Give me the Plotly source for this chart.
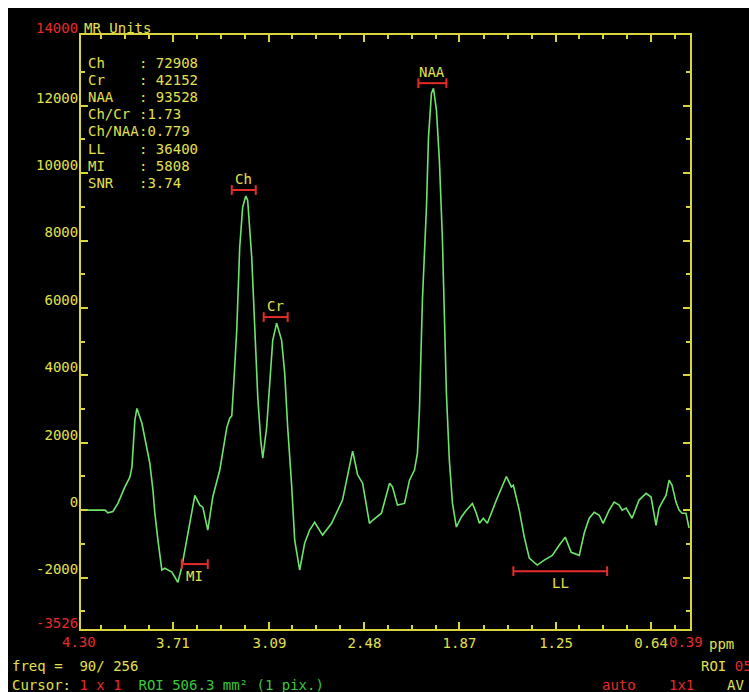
import plotly.graph_objects as go

# ---------------- data ----------------
ppm = [4.300, 4.146, 4.127, 4.095, 4.063, 4.018, 3.986, 3.973, 3.954, 3.941,
       3.909, 3.877, 3.858, 3.838, 3.826, 3.806, 3.781, 3.762, 3.717, 3.697,
       3.678, 3.653, 3.621, 3.588, 3.569, 3.537, 3.518, 3.486, 3.454, 3.409,
       3.390, 3.364, 3.345, 3.332, 3.320, 3.300, 3.281, 3.262, 3.242, 3.230,
       3.204, 3.185, 3.165, 3.146, 3.133, 3.108, 3.089, 3.069, 3.044, 3.012,
       2.992, 2.973, 2.947, 2.928, 2.896, 2.864, 2.832, 2.800, 2.749, 2.691,
       2.621, 2.589, 2.556, 2.524, 2.492, 2.448, 2.428, 2.371, 2.319, 2.300,
       2.268, 2.223, 2.191, 2.159, 2.140, 2.127, 2.108, 2.082, 2.069, 2.050,
       2.037, 2.018, 1.999, 1.980, 1.967, 1.954, 1.935, 1.915, 1.890, 1.858,
       1.826, 1.787, 1.762, 1.742, 1.717, 1.691, 1.633, 1.569, 1.537, 1.524,
       1.486, 1.454, 1.422, 1.371, 1.326, 1.274, 1.230, 1.191, 1.153, 1.101,
       1.069, 1.037, 1.005, 0.973, 0.948, 0.909, 0.877, 0.845, 0.826, 0.800,
       0.762, 0.717, 0.672, 0.640, 0.608, 0.589, 0.569, 0.544, 0.524, 0.505,
       0.480, 0.460, 0.441, 0.416, 0.396]
signal = [0, 0, -80, -40, 200, 690, 980, 1280, 2670, 3020,
          2580, 1870, 1390, 590, -90, -890, -1780, -1720, -1840, -1990,
          -2140, -1690, -890, -90, 440, 150, 90, -590, 390, 1190,
          1780, 2450, 2730, 2800, 3700, 5340, 7800, 8990, 9320, 9200,
          7510, 5340, 3350, 2080, 1540, 2460, 3860, 5040, 5550, 5040,
          4060, 2460, 690, -890, -1780, -980, -590, -360, -740, -390,
          300, 1000, 1750, 1050, 800, -390, -300, -90, 800, 690,
          150, 200, 890, 1190, 1690, 2970, 6230, 8990, 11070, 12370,
          12520, 11870, 10380, 8100, 5430, 3470, 1480, 200, -500, -200,
          0, 200, -90, -390, -240, -390, 300, 1000, 690, 740,
          0, -800, -1420, -1630, -1480, -1340, -1040, -800, -1250, -1340,
          -680, -240, -60, -150, -390, 0, 240, 150, 0, 60,
          -240, 300, 500, 390, -450, 60, 240, 440, 890, 740,
          240, 0, -90, -90, -530]

peak_names = ["Ch", "Cr", "NAA", "MI", "LL"]
peak_start = [3.332, 3.127, 2.134, 3.653, 1.524]
peak_end = [3.178, 2.973, 1.954, 3.486, 0.922]
peak_level = [9500, 5730, 12670, -1600, -1810]
peak_label_above = [True, True, True, False, False]

stat_names = ["Ch", "Cr", "NAA", "Ch/Cr", "Ch/NAA", "LL", "MI", "SNR"]
stat_values = [": 72908", ": 42152", ": 93528", ":1.73", ":0.779",
               ": 36400", ": 5808", ":3.74"]

x_tick_vals = [3.71, 3.09, 2.48, 1.87, 1.25, 0.64]
x_tick_text = ["3.71", "3.09", "2.48", "1.87", "1.25", "0.64"]
x_start, x_end = 4.30, 0.39
y_tick_vals = [-2000, 0, 2000, 4000, 6000, 8000, 10000, 12000]
y_tick_text = ["-2000", "0", "2000", "4000", "6000", "8000", "10000", "12000"]
y_minor_vals = [-3000, -1000, 1000, 3000, 5000, 7000, 9000, 11000, 13000]
y_bottom, y_top = -3526, 14100

# ---------------- styling ----------------
W, H = 749, 692
PL, PR, PT, PB = 81, 690, 35, 629     # plot frame in page pixels
ML, MT = PL, PT
PW, PH = PR - PL, PB - PT
MR, MB = W - ML - PW, H - MT - PH
EDGE = 8                               # white border at left / top

YEL = "#e2e04c"
AXC = "#d8d63c"
RED = "#e52b2b"
GRN_LINE = "#6ee46e"
GRN_TXT = "#38c838"
FONT = "DejaVu Sans Mono"
FS = 14


def px(x, y):
    """page pixel -> paper coordinates"""
    return (x - PL) / PW, (PB - y) / PH


# minor x ticks: quarter steps of the major spacing
step = (x_tick_vals[0] - x_tick_vals[-1]) / (len(x_tick_vals) - 1) / 4
x_minor = []
v = x_tick_vals[0] + step
while v < x_start - 0.02:
    x_minor.append(round(v, 4))
    v += step
v = x_tick_vals[0] - step
while v > x_end + 0.02:
    if min(abs(v - m) for m in x_tick_vals) > 0.03:
        x_minor.append(round(v, 4))
    v -= step

fig = go.Figure()
fig.add_trace(go.Scatter(x=ppm, y=signal, mode="lines",
                         line=dict(color=GRN_LINE, width=1.6),
                         hoverinfo="skip", showlegend=False))

annotations = []
for name, a, b, lev, above in zip(peak_names, peak_start, peak_end,
                                  peak_level, peak_label_above):
    fig.add_trace(go.Scatter(
        x=[a, b], y=[lev, lev], mode="lines+markers",
        line=dict(color=RED, width=2),
        marker=dict(symbol="line-ns", size=7, line=dict(color=RED, width=2)),
        hoverinfo="skip", showlegend=False))
    annotations.append(dict(
        x=(a + b) / 2, y=lev, xref="x", yref="y", text=name,
        showarrow=False, font=dict(family=FONT, size=FS, color=YEL),
        yanchor="bottom" if above else "top",
        yshift=1 if above else -2))

# stats block
for i, (n, val) in enumerate(zip(stat_names, stat_values)):
    yc = 63 + i * 17.1
    x0, y0 = px(86, yc)
    x1, _ = px(137, yc)
    annotations.append(dict(x=x0, y=y0, xref="paper", yref="paper", text=n,
                            showarrow=False, xanchor="left", yanchor="middle",
                            font=dict(family=FONT, size=FS, color=YEL)))
    annotations.append(dict(x=x1, y=y0, xref="paper", yref="paper", text=val,
                            showarrow=False, xanchor="left", yanchor="middle",
                            font=dict(family=FONT, size=FS, color=YEL)))


def txt(x, y, text, color, anchor="left"):
    xp, yp = px(x, y)
    annotations.append(dict(x=xp, y=yp, xref="paper", yref="paper", text=text,
                            showarrow=False, xanchor=anchor, yanchor="middle",
                            font=dict(family=FONT, size=FS, color=color)))


txt(80, 28, "14000", RED, "right")
txt(82, 28, "MR Units", YEL, "left")
txt(80, 623, "-3526", RED, "right")
txt(79, 642, "4.30", RED, "center")
txt(686, 642, "0.39", RED, "center")
txt(707, 644, "ppm", YEL, "left")
txt(10, 666, "freq =\u00a0 90/ 256", YEL, "left")
txt(10, 685, "Cursor: <span style='color:%s'>1 x 1</span>\u00a0 "
             "<span style='color:%s'>ROI 506.3 mm² (1 pix.)</span>" % (RED, GRN_TXT),
    YEL, "left")
txt(699, 666, "ROI <span style='color:%s'>05</span>" % RED, YEL, "left")
txt(600, 685, "auto", RED, "left")
txt(667, 685, "1x1", RED, "left")
txt(725, 685, "AV", YEL, "left")

# white border at the left and top edge of the picture
x_l, y_t = px(0, 0)
x_r, y_b = px(W, H)
x_e, y_e = px(EDGE, EDGE)
shapes = [
    dict(type="rect", xref="paper", yref="paper", x0=x_l, x1=x_e,
         y0=y_b, y1=y_t, fillcolor="white", line=dict(width=0), layer="above"),
    dict(type="rect", xref="paper", yref="paper", x0=x_l, x1=x_r,
         y0=y_e, y1=y_t, fillcolor="white", line=dict(width=0), layer="above"),
]

axis_common = dict(showgrid=False, zeroline=False, showline=True,
                   linecolor=AXC, linewidth=2, mirror="ticks",
                   ticks="inside", ticklen=7, tickwidth=2, tickcolor=AXC,
                   tickfont=dict(family=FONT, size=FS, color=YEL))

fig.update_layout(
    width=W, height=H,
    margin=dict(l=ML, r=MR, t=MT, b=MB, pad=0),
    paper_bgcolor="black", plot_bgcolor="black",
    showlegend=False,
    xaxis=dict(range=[x_start, x_end], tickmode="array",
               tickvals=x_tick_vals, ticktext=x_tick_text,
               minor=dict(tickmode="array", tickvals=x_minor, ticks="inside",
                          ticklen=4, tickwidth=2, tickcolor=AXC),
               **axis_common),
    yaxis=dict(range=[y_bottom, y_top], tickmode="array",
               tickvals=y_tick_vals, ticktext=y_tick_text,
               ticklabelshift=-8, ticklabelstandoff=-2,
               minor=dict(tickmode="array", tickvals=y_minor_vals,
                          ticks="inside", ticklen=4, tickwidth=2,
                          tickcolor=AXC),
               **axis_common),
    annotations=annotations,
    shapes=shapes,
)

fig.write_html(
    "out.html",
    config={"displayModeBar": False, "staticPlot": True},
    post_script="document.body.style.margin='0';"
                "document.body.style.overflow='hidden';",
)
